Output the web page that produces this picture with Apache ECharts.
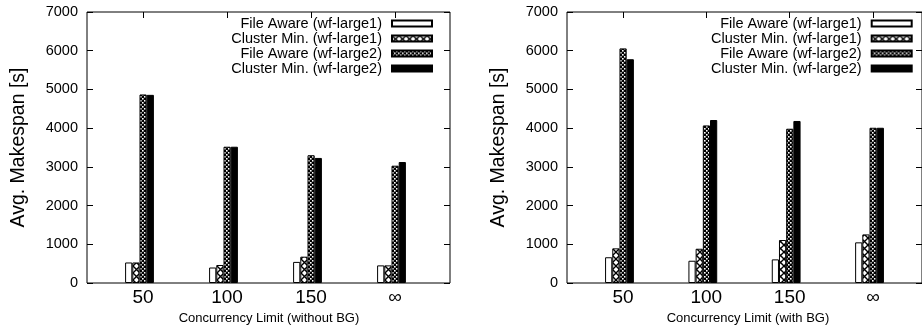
<!DOCTYPE html>
<html>
<head>
<meta charset="utf-8">
<script src="https://cdn.jsdelivr.net/npm/echarts@6/dist/echarts.min.js"></script>
<style>html,body{margin:0;padding:0;background:#fff}#c{width:922px;height:330px}</style>
</head>
<body>
<div id="c"></div>
<script>
var categories = ['50', '100', '150', '\u221e'];
var seriesNames = ['File Aware (wf-large1)', 'Cluster Min. (wf-large1)', 'File Aware (wf-large2)', 'Cluster Min. (wf-large2)'];
var yTicks = [0, 1000, 2000, 3000, 4000, 5000, 6000, 7000];

var leftFA1 = [530, 400, 545, 455];
var leftCM1 = [530, 465, 680, 455];
var leftFA2 = [4870, 3520, 3300, 3030];
var leftCM2 = [4860, 3520, 3230, 3125];

var rightFA1 = [665, 575, 610, 1050];
var rightCM1 = [895, 885, 1110, 1255];
var rightFA2 = [6060, 4070, 3985, 4010];
var rightCM2 = [5780, 4210, 4185, 4010];

var xNames = ['Concurrency Limit (without BG)', 'Concurrency Limit (with BG)'];
var yName = 'Avg. Makespan [s]';

function makeCross() {
  var c = document.createElement('canvas');
  c.width = 7; c.height = 7;
  var g = c.getContext('2d');
  g.fillStyle = '#fff'; g.fillRect(0, 0, 7, 7);
  g.strokeStyle = '#000'; g.lineWidth = 1.4;
  g.beginPath();
  g.moveTo(-1, -1); g.lineTo(8, 8);
  g.moveTo(8, -1); g.lineTo(-1, 8);
  g.stroke();
  return c;
}
function makeChecker() {
  var c = document.createElement('canvas');
  c.width = 4; c.height = 4;
  var g = c.getContext('2d');
  g.fillStyle = '#000'; g.fillRect(0, 0, 4, 4);
  g.fillStyle = '#fff';
  g.fillRect(0, 0, 1.6, 1.6);
  g.fillRect(2, 2, 1.6, 1.6);
  return c;
}
var fills = [
  '#ffffff',
  { image: makeCross(), repeat: 'repeat' },
  { image: makeChecker(), repeat: 'repeat' },
  '#000000'
];

var FONT = 'Liberation Sans';
var chart = echarts.init(document.getElementById('c'), null, { renderer: 'canvas' });

var panels = [
  { frameL: 87, frameR: 922 - 450, tickL: 101, tickR: 922 - 437, barL: 97.5, barR: 922 - 433.5,
    data: [leftFA1, leftCM1, leftFA2, leftCM2], legendRight: 922 - 433, xName: xNames[0] },
  { frameL: 567, frameR: -6, tickL: 581.3, tickR: 7.3, barL: 577.8, barR: 10.8,
    data: [rightFA1, rightCM1, rightFA2, rightCM2], legendRight: 9.3, xName: xNames[1] }
];

var grid = [], xAxis = [], yAxis = [], series = [], legend = [];
var TOP = 12, BOTTOM = 47;
panels.forEach(function (p, pi) {
  var g0 = grid.length;
  grid.push({ left: p.frameL, right: p.frameR, top: TOP, bottom: BOTTOM, show: true, borderColor: '#000', borderWidth: 1, backgroundColor: 'transparent' });
  grid.push({ left: p.tickL, right: p.tickR, top: TOP, bottom: BOTTOM });
  grid.push({ left: p.barL, right: p.barR, top: TOP, bottom: BOTTOM });

  // frame grid axes
  xAxis.push({ gridIndex: g0, type: 'value', show: false, min: 0, max: 1 });
  yAxis.push({ gridIndex: g0, type: 'value', min: yTicks[0], max: yTicks[yTicks.length - 1], interval: yTicks[1] - yTicks[0],
    axisLine: { show: false }, splitLine: { show: false },
    axisTick: { show: true, inside: true, length: 6, lineStyle: { color: '#000' } },
    axisLabel: { color: '#000', fontFamily: FONT, fontSize: 14.5, margin: 9, formatter: function (v) { return String(v); } },
    name: yName, nameLocation: 'middle', nameGap: 58, nameRotate: 90,
    nameTextStyle: { color: '#000', fontFamily: FONT, fontSize: 19.5 } });
  yAxis.push({ gridIndex: g0, type: 'value', position: 'right', min: yTicks[0], max: yTicks[yTicks.length - 1], interval: yTicks[1] - yTicks[0],
    axisLine: { show: false }, splitLine: { show: false }, axisLabel: { show: false },
    axisTick: { show: true, inside: true, length: 6, lineStyle: { color: '#000' } } });

  // tick grid axes
  xAxis.push({ gridIndex: g0 + 1, type: 'category', data: categories, position: 'bottom',
    axisLine: { show: false }, splitLine: { show: false },
    axisTick: { show: true, inside: true, alignWithLabel: true, length: 6, lineStyle: { color: '#000' } },
    axisLabel: { color: '#000', fontFamily: FONT, fontSize: 19, margin: 6 },
    name: p.xName, nameLocation: 'middle', nameGap: 30,
    nameTextStyle: { color: '#000', fontFamily: FONT, fontSize: 13 } });
  xAxis.push({ gridIndex: g0 + 1, type: 'category', data: categories, position: 'top',
    axisLine: { show: false }, splitLine: { show: false }, axisLabel: { show: false },
    axisTick: { show: true, inside: true, alignWithLabel: true, length: 6, lineStyle: { color: '#000' } } });
  yAxis.push({ gridIndex: g0 + 1, type: 'value', show: false, min: 0, max: 7000 });

  // bar grid axes
  var xb = xAxis.length;
  xAxis.push({ gridIndex: g0 + 2, type: 'category', data: categories, show: false });
  var yb = yAxis.length;
  yAxis.push({ gridIndex: g0 + 2, type: 'value', show: false, min: yTicks[0], max: yTicks[yTicks.length - 1] });

  seriesNames.forEach(function (name, si) {
    series.push({
      type: 'bar', name: name, xAxisIndex: xb, yAxisIndex: yb,
      data: p.data[si], barWidth: 7.2, barGap: '0%', z: 3,
      itemStyle: { color: fills[si], borderColor: '#000', borderWidth: 1 },
      emphasis: { disabled: true }, animation: false
    });
  });

  legend.push({
    data: seriesNames, orient: 'vertical', right: p.legendRight, top: 16, padding: 0,
    align: 'right', itemGap: 0, itemWidth: 40, itemHeight: 6, icon: 'rect', selectedMode: false,
    textStyle: { color: '#000', fontFamily: FONT, fontSize: 14.5, lineHeight: 14.5, padding: [0, 5, 0, 0] }
  });
});

chart.setOption({
  animation: false,
  backgroundColor: '#fff',
  grid: grid, xAxis: xAxis, yAxis: yAxis, series: series, legend: legend
});
</script>
</body>
</html>
